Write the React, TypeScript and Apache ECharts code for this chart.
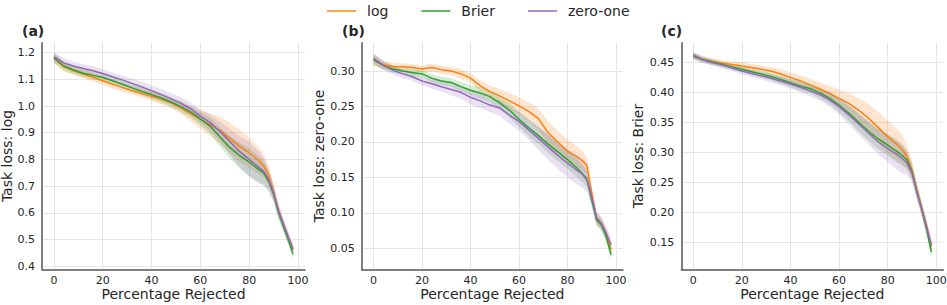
import React, { useEffect, useRef } from "react";
import * as echarts from "echarts";

// Percentage rejected (shared x positions)
const X = [0, 4, 8, 12, 16, 20, 24, 28, 32, 36, 40, 44, 48, 52, 56, 60, 64, 68, 72, 76, 80, 84, 86, 88, 90, 92, 94, 96, 98];

// Panel (a): Task loss: log
const aLog = [1.180, 1.148, 1.132, 1.120, 1.108, 1.095, 1.082, 1.070, 1.058, 1.048, 1.037, 1.025, 1.012, 0.993, 0.972, 0.950, 0.930, 0.910, 0.880, 0.850, 0.825, 0.795, 0.775, 0.740, 0.680, 0.610, 0.555, 0.508, 0.460];
const aBrier = [1.180, 1.150, 1.135, 1.123, 1.115, 1.107, 1.095, 1.082, 1.068, 1.055, 1.043, 1.030, 1.015, 0.998, 0.978, 0.952, 0.925, 0.885, 0.845, 0.815, 0.790, 0.762, 0.748, 0.718, 0.670, 0.602, 0.550, 0.500, 0.445];
const aZeroOne = [1.185, 1.162, 1.150, 1.141, 1.132, 1.122, 1.110, 1.098, 1.085, 1.072, 1.058, 1.043, 1.027, 1.010, 0.990, 0.962, 0.938, 0.905, 0.868, 0.830, 0.800, 0.770, 0.755, 0.725, 0.675, 0.608, 0.560, 0.510, 0.465];
const aLogErr = [0.020, 0.018, 0.016, 0.016, 0.016, 0.016, 0.016, 0.016, 0.016, 0.016, 0.017, 0.018, 0.020, 0.022, 0.028, 0.035, 0.042, 0.050, 0.058, 0.060, 0.058, 0.050, 0.045, 0.038, 0.030, 0.025, 0.022, 0.020, 0.020];
const aBrierErr = [0.018, 0.016, 0.015, 0.015, 0.015, 0.015, 0.015, 0.015, 0.016, 0.016, 0.017, 0.018, 0.019, 0.020, 0.022, 0.025, 0.030, 0.036, 0.042, 0.048, 0.052, 0.050, 0.045, 0.038, 0.030, 0.025, 0.022, 0.020, 0.020];
const aZeroOneErr = [0.018, 0.017, 0.016, 0.016, 0.016, 0.016, 0.016, 0.017, 0.018, 0.019, 0.020, 0.021, 0.022, 0.023, 0.024, 0.025, 0.030, 0.038, 0.048, 0.058, 0.065, 0.060, 0.050, 0.040, 0.030, 0.025, 0.022, 0.020, 0.020];

// Panel (b): Task loss: zero-one
const bLog = [0.316, 0.309, 0.3065, 0.306, 0.305, 0.303, 0.305, 0.302, 0.300, 0.296, 0.290, 0.279, 0.271, 0.265, 0.258, 0.251, 0.243, 0.233, 0.213, 0.200, 0.187, 0.179, 0.174, 0.167, 0.128, 0.092, 0.085, 0.071, 0.048];
const bBrier = [0.316, 0.308, 0.303, 0.300, 0.298, 0.296, 0.290, 0.286, 0.284, 0.278, 0.273, 0.269, 0.264, 0.255, 0.245, 0.232, 0.220, 0.209, 0.197, 0.186, 0.175, 0.163, 0.156, 0.148, 0.118, 0.090, 0.083, 0.066, 0.041];
const bZeroOne = [0.318, 0.308, 0.301, 0.296, 0.292, 0.286, 0.282, 0.278, 0.274, 0.270, 0.263, 0.258, 0.252, 0.248, 0.238, 0.229, 0.217, 0.205, 0.193, 0.181, 0.170, 0.160, 0.155, 0.146, 0.123, 0.093, 0.085, 0.071, 0.055];
const bLogErr = [0.008, 0.006, 0.005, 0.005, 0.005, 0.005, 0.006, 0.006, 0.006, 0.007, 0.007, 0.008, 0.009, 0.010, 0.011, 0.012, 0.013, 0.015, 0.016, 0.016, 0.016, 0.015, 0.014, 0.012, 0.010, 0.008, 0.008, 0.008, 0.008];
const bBrierErr = [0.007, 0.006, 0.005, 0.005, 0.005, 0.005, 0.006, 0.006, 0.006, 0.007, 0.007, 0.008, 0.008, 0.009, 0.010, 0.011, 0.012, 0.012, 0.013, 0.013, 0.013, 0.013, 0.012, 0.011, 0.010, 0.008, 0.008, 0.008, 0.008];
const bZeroOneErr = [0.007, 0.006, 0.006, 0.006, 0.006, 0.006, 0.007, 0.007, 0.008, 0.009, 0.010, 0.010, 0.010, 0.011, 0.012, 0.013, 0.014, 0.016, 0.018, 0.019, 0.020, 0.020, 0.019, 0.016, 0.012, 0.010, 0.009, 0.009, 0.009];

// Panel (c): Task loss: Brier
const cLog = [0.461, 0.456, 0.452, 0.449, 0.447, 0.4444, 0.442, 0.439, 0.436, 0.431, 0.4255, 0.420, 0.413, 0.406, 0.399, 0.3905, 0.382, 0.371, 0.358, 0.342, 0.3265, 0.313, 0.305, 0.293, 0.271, 0.2375, 0.208, 0.178, 0.143];
const cBrier = [0.461, 0.455, 0.451, 0.447, 0.443, 0.439, 0.435, 0.431, 0.427, 0.422, 0.4166, 0.411, 0.407, 0.400, 0.391, 0.3793, 0.366, 0.351, 0.336, 0.323, 0.3125, 0.301, 0.295, 0.287, 0.268, 0.2346, 0.205, 0.172, 0.134];
const cZeroOne = [0.4628, 0.455, 0.450, 0.446, 0.441, 0.436, 0.432, 0.428, 0.424, 0.419, 0.4144, 0.409, 0.403, 0.397, 0.388, 0.3765, 0.363, 0.348, 0.333, 0.318, 0.307, 0.296, 0.290, 0.282, 0.266, 0.2346, 0.206, 0.176, 0.1456];
const cLogErr = [0.006, 0.005, 0.005, 0.005, 0.005, 0.006, 0.006, 0.006, 0.007, 0.008, 0.008, 0.009, 0.010, 0.011, 0.013, 0.015, 0.017, 0.020, 0.023, 0.026, 0.027, 0.026, 0.024, 0.020, 0.016, 0.013, 0.012, 0.011, 0.010];
const cBrierErr = [0.005, 0.005, 0.005, 0.005, 0.005, 0.005, 0.005, 0.006, 0.006, 0.007, 0.007, 0.008, 0.008, 0.009, 0.010, 0.012, 0.013, 0.015, 0.016, 0.017, 0.018, 0.018, 0.017, 0.015, 0.013, 0.012, 0.011, 0.011, 0.011];
const cZeroOneErr = [0.006, 0.005, 0.005, 0.005, 0.005, 0.006, 0.006, 0.006, 0.007, 0.007, 0.008, 0.008, 0.009, 0.010, 0.011, 0.013, 0.015, 0.017, 0.019, 0.021, 0.023, 0.025, 0.024, 0.020, 0.015, 0.012, 0.011, 0.011, 0.011];

const seriesNames = ["log", "Brier", "zero-one"];
const colors = ["#ff7f0e", "#2ca02c", "#9467bd"];
const panelTitles = ["(a)", "(b)", "(c)"];
const yTitles = ["Task loss: log", "Task loss: zero-one", "Task loss: Brier"];
const xTitle = "Percentage Rejected";
const xTickStep = 20;
const yTickSteps = [0.1, 0.05, 0.05];
const yDecimals = [1, 2, 2];
const yRanges = [[0.388, 1.2375], [0.0204, 0.34], [0.105, 0.4834]];
const xRange = [-4.9, 102.9];

const panelMeans = [
  [aLog, aBrier, aZeroOne],
  [bLog, bBrier, bZeroOne],
  [cLog, cBrier, cZeroOne],
];
const panelErrs = [
  [aLogErr, aBrierErr, aZeroOneErr],
  [bLogErr, bBrierErr, bZeroOneErr],
  [cLogErr, cBrierErr, cZeroOneErr],
];

const FONT = "DejaVu Sans";
const TEXT = "#262626";

const gridBoxes = [
  { left: 42, top: 42.7, width: 263, height: 226.6 },
  { left: 361.7, top: 42.7, width: 261.3, height: 226.6 },
  { left: 681.3, top: 42.7, width: 262, height: 226.6 },
];
const yNameGaps = [28, 36, 36];
const titleLefts = [22, 342, 661];

export default function App() {
  const ref = useRef<HTMLDivElement>(null);
  useEffect(() => {
    if (!ref.current) return;
    const chart = echarts.init(ref.current, undefined, { renderer: "svg" });

    const series: any[] = [];
    for (let p = 0; p < 3; p++) {
      for (let s = 0; s < 3; s++) {
        const mean = panelMeans[p][s];
        const err = panelErrs[p][s];
        const color = colors[s];
        series.push({
          type: "custom",
          name: "band-" + p + "-" + s,
          xAxisIndex: p,
          yAxisIndex: p,
          silent: true,
          z: 1,
          data: [[X[0], mean[0]]],
          renderItem: (_params: any, api: any) => {
            const pts: number[][] = [];
            for (let k = 0; k < X.length; k++) pts.push(api.coord([X[k], mean[k] + err[k]]));
            for (let k = X.length - 1; k >= 0; k--) pts.push(api.coord([X[k], mean[k] - err[k]]));
            return {
              type: "polygon",
              shape: { points: pts },
              style: { fill: color, opacity: 0.2, stroke: "none" },
            };
          },
        });
      }
      for (let s = 0; s < 3; s++) {
        series.push({
          type: "line",
          name: seriesNames[s],
          xAxisIndex: p,
          yAxisIndex: p,
          z: 3,
          showSymbol: false,
          symbol: "none",
          color: colors[s],
          lineStyle: { color: colors[s], width: 1.5 },
          data: X.map((x, i) => [x, panelMeans[p][s][i]]),
        });
      }
    }

    const option: any = {
      animation: false,
      backgroundColor: "#ffffff",
      textStyle: { fontFamily: FONT },
      title: panelTitles.map((t, i) => ({
        text: t,
        left: titleLefts[i],
        top: 24,
        padding: 0,
        textStyle: { fontFamily: FONT, fontSize: 14, fontWeight: "bold", color: TEXT },
      })),
      legend: {
        data: seriesNames,
        left: 327,
        top: 4,
        padding: 0,
        icon: "rect",
        itemWidth: 29,
        itemHeight: 1.5,
        itemGap: 33,
        textStyle: { fontFamily: FONT, fontSize: 14, color: TEXT, padding: [0, 0, 0, 6] },
      },
      grid: gridBoxes.map((g) => ({ ...g, containLabel: false, outerBoundsMode: "none" })),
      xAxis: [0, 1, 2].map((p) => ({
        type: "value",
        gridIndex: p,
        min: xRange[0],
        max: xRange[1],
        minInterval: xTickStep,
        maxInterval: xTickStep,
        name: xTitle,
        nameLocation: "middle",
        nameGap: 18,
        nameMoveOverlap: false,
        nameTextStyle: { fontFamily: FONT, fontSize: 14, color: TEXT },
        axisLine: { show: true, onZero: false, lineStyle: { color: "#555555", width: 1.5 } },
        axisTick: { show: false },
        axisLabel: {
          fontFamily: FONT,
          fontSize: 11,
          color: TEXT,
          margin: 6,
          showMinLabel: false,
          showMaxLabel: false,
          formatter: (v: number) => String(Math.round(v)),
        },
        splitLine: { show: true, showMinLine: false, showMaxLine: false, lineStyle: { color: "#e6e6e6", width: 1 } },
      })),
      yAxis: [0, 1, 2].map((p) => ({
        type: "value",
        gridIndex: p,
        min: yRanges[p][0],
        max: yRanges[p][1],
        minInterval: yTickSteps[p],
        maxInterval: yTickSteps[p],
        name: yTitles[p],
        nameLocation: "middle",
        nameGap: yNameGaps[p],
        nameMoveOverlap: false,
        nameTextStyle: { fontFamily: FONT, fontSize: 14, color: TEXT },
        axisLine: { show: true, onZero: false, lineStyle: { color: "#555555", width: 1.5 } },
        axisTick: { show: false },
        axisLabel: {
          fontFamily: FONT,
          fontSize: 11,
          color: TEXT,
          margin: 7,
          showMinLabel: false,
          showMaxLabel: false,
          formatter: (v: number) => v.toFixed(yDecimals[p]),
        },
        splitLine: { show: true, showMinLine: false, showMaxLine: false, lineStyle: { color: "#e6e6e6", width: 1 } },
      })),
      series,
    };
    chart.setOption(option);
    return () => chart.dispose();
  }, []);

  return (
    <div
      ref={ref}
      style={{ position: "fixed", left: 0, top: 0, width: 947, height: 305, background: "#fff" }}
    />
  );
}
